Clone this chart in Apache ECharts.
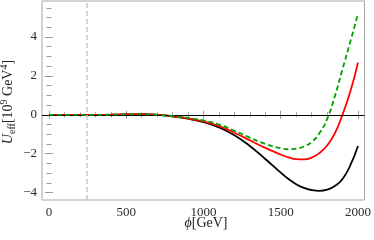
<!DOCTYPE html>
<html><head><meta charset="utf-8">
<script src="https://cdn.jsdelivr.net/npm/echarts@6/dist/echarts.min.js"></script>
<style>html,body{margin:0;padding:0;background:#fff}#c{width:374px;height:240px}</style>
</head><body><div id="c"></div>
<script>
// --- data ---
const phi = [0,100,200,300,400,500,600,700,800,900,1000,1100,1200,1300,1400,1500,1550,1600,1650,1700,1750,1800,1850,1900,1950,2000];
const blackU = [0,0,0,0,0.005,0.02,0.03,0.0,-0.08,-0.2,-0.38,-0.65,-1.05,-1.6,-2.27,-2.97,-3.3,-3.57,-3.76,-3.87,-3.91,-3.85,-3.66,-3.3,-2.6,-1.6];
const redU   = [0,0,0,0,0.005,0.02,0.03,0.0,-0.07,-0.19,-0.34,-0.58,-0.92,-1.31,-1.7,-2.04,-2.19,-2.28,-2.29,-2.2,-1.97,-1.58,-0.95,0.02,1.18,2.68];
const greenU = [0,0,0,0,0.005,0.02,0.03,0.0,-0.07,-0.16,-0.29,-0.5,-0.82,-1.17,-1.5,-1.72,-1.77,-1.74,-1.63,-1.4,-0.95,-0.22,0.95,2.35,3.75,5.2];
const vevLine = 246;
const xMajor = [0,500,1000,1500,2000];
const xMinor = [100,200,300,400,600,700,800,900,1100,1200,1300,1400,1600,1700,1800,1900];
const yMajor = [-4,-2,0,2,4];
const yMinor = [-4.5,-3.5,-3,-2.5,-1.5,-1,-0.5,0.5,1,1.5,2.5,3,3.5,4.5,5,5.5];

const XMIN = -45, XMAX = 2042, YMIN = -4.38, YMAX = 5.85;
const FONT = 'Liberation Serif';
const pair = (ys) => phi.map((p,i)=>[p, ys[i]]);
const fmt = v => v < 0 ? '\u2212' + Math.abs(v) : String(v);

function xAx(pos, vals, len, labels){
  return {type:'value', position:pos, min:XMIN, max:XMAX,
    axisLine:{show:false}, splitLine:{show:false},
    axisTick:{show:true, inside:true, length:len, customValues:vals, lineStyle:{color:'#999', width:1}},
    axisLabel:{show:labels, customValues:vals, margin:6, fontFamily:FONT, fontSize:13, color:'#2a2a2a', formatter:fmt}};
}
function yAx(pos, vals, len, labels){
  return {type:'value', position:pos, min:YMIN, max:YMAX,
    axisLine:{show:false}, splitLine:{show:false},
    axisTick:{show:true, inside:true, length:len, customValues:vals, lineStyle:{color:'#999', width:1}},
    axisLabel:{show:labels, customValues:vals, margin:5, fontFamily:FONT, fontSize:13, color:'#2a2a2a', formatter:fmt}};
}

const chart = echarts.init(document.getElementById('c'), null, {renderer:'canvas'});
chart.setOption({
  animation:false,
  grid:{left:42, right:8, top:1, bottom:40, show:true, borderColor:'#a8a8a8', borderWidth:1, backgroundColor:'transparent'},
  xAxis:[xAx('bottom', xMajor, 4, true), xAx('bottom', xMinor, 2.5, false), xAx('top', xMajor, 4, false), xAx('top', xMinor, 2.5, false)],
  yAxis:[yAx('left', yMajor, 4, true), yAx('left', yMinor, 2.5, false), yAx('right', yMajor, 4, false), yAx('right', yMinor, 2.5, false)],
  series:[
    {type:'line', data:pair(blackU), smooth:true, showSymbol:false, lineStyle:{color:'#000', width:1.8}, z:3,
     markLine:{silent:true, symbol:'none', label:{show:false},
       data:[{yAxis:0, lineStyle:{color:'#000', width:1, type:'solid'}},
             {xAxis:vevLine, lineStyle:{color:'#c8c8c8', width:1.6, type:[5,3]}}]}},
    {type:'line', data:pair(redU), smooth:true, showSymbol:false, lineStyle:{color:'#ff0000', width:1.8}, z:4},
    {type:'line', data:pair(greenU), smooth:true, showSymbol:false, lineStyle:{color:'#00a000', width:1.8, type:[5,3]}, z:5}
  ],
  graphic:[
    {type:'text', x:8, y:102, rotation:Math.PI/2,
     style:{text:'{u|U}{s|eff}{n|[10}{p|9}{n| GeV}{p|4}{n|]}', align:'center', verticalAlign:'middle',
       rich:{
         u:{fontFamily:FONT, fontStyle:'italic', fontSize:14, fill:'#222', verticalAlign:'middle', lineHeight:18},
         s:{fontFamily:FONT, fontSize:10, fill:'#222', verticalAlign:'bottom', lineHeight:18},
         n:{fontFamily:FONT, fontSize:14, fill:'#222', verticalAlign:'middle', lineHeight:18},
         p:{fontFamily:FONT, fontSize:10, fill:'#222', verticalAlign:'top', lineHeight:18}
       }}},
    {type:'text', x:206, y:223,
     style:{text:'{i|\u03d5}{n|[GeV]}', align:'center', verticalAlign:'middle',
       rich:{ i:{fontFamily:FONT, fontStyle:'italic', fontSize:14, fill:'#222'},
              n:{fontFamily:FONT, fontSize:14, fill:'#222'} }}}
  ]
});
</script></body></html>
